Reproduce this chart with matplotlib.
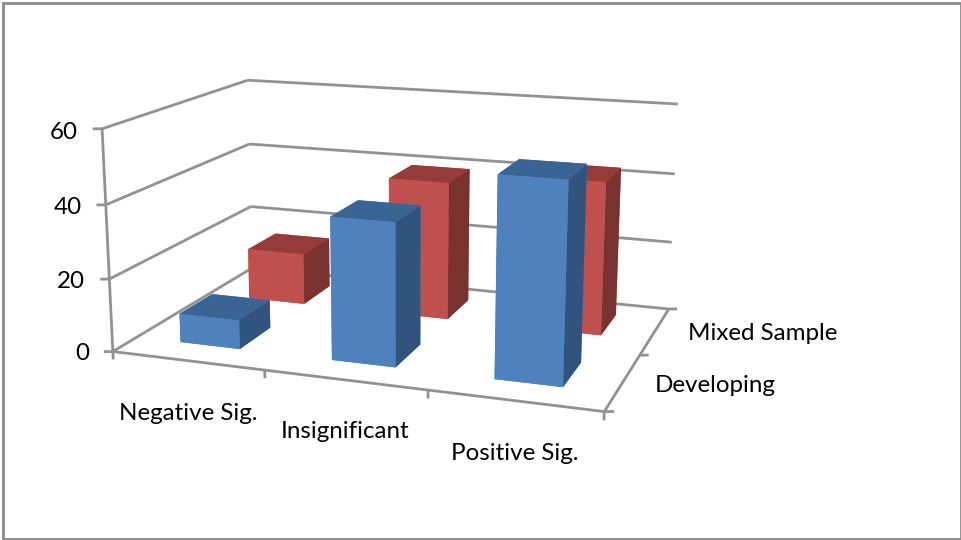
import numpy as np
import matplotlib
matplotlib.use('Agg')
import matplotlib.pyplot as plt
from matplotlib.patches import Rectangle

W, H = 962, 540

categories = ['Negative Sig.', 'Insignificant', 'Positive Sig.']
series = ['Developing', 'Mixed Sample']
developing = [8, 38.5, 52.7]
mixed = [15, 39.5, 43]
z_ticks = [0, 20, 40, 60]

colors = {
    'Developing': ('#4f81bd', '#3a6494', '#31547e'),
    'Mixed Sample': ('#c0504d', '#953c3a', '#7a3230'),
}
GRID = '#929292'

plt.rcParams['font.family'] = ['Lato', 'DejaVu Sans']

fig = plt.figure(figsize=(W / 100, H / 100), dpi=100)
ax = fig.add_axes([0, 0, 1, 1], projection='3d')
ax.set_xlim(0, 3)
ax.set_ylim(0, 2)
ax.set_zlim(0, 60)
ax.set_proj_type('persp', focal_length=0.25)
ax.view_init(elev=14.0089, azim=-70.4954)
ax.set_box_aspect((1, np.exp(-0.4151), np.exp(-0.7915)), zoom=np.exp(0.0623) / 2)
ax.set_axis_off()
ax.computed_zorder = False

# place the axes so the camera frame lands where the reference has it
scale, tx, ty = 6132.52, 402.936, 224.446
x0, x1 = ax.viewLim.intervalx
y0, y1 = ax.viewLim.intervaly
ax.set_position([(tx + scale * x0) / W, 1 - (ty - scale * y0) / H,
                 scale * (x1 - x0) / W, scale * (y1 - y0) / H])


def line3(xs, ys, zs, lw=2.0):
    ax.plot(xs, ys, zs, color=GRID, lw=lw, zorder=1, solid_capstyle='butt')


# walls
for z in z_ticks:
    line3([0, 0], [0, 2], [z, z])
    line3([0, 3], [2, 2], [z, z])
    line3([-0.05, 0], [-0.02, 0], [z, z])
line3([0, 0], [0, 0], [-2.2, 60])
# floor edges and ticks
line3([0, 3], [0, 0], [0, 0])
line3([3, 3], [0, 2], [0, 0])
for x in [1, 2, 3]:
    line3([x, x], [0, 0], [-2.2, 0])
for y in [0, 1, 2]:
    line3([3, 3.05], [y, y + 0.02], [0, 0])

# bars, back row first
bar_w = 0.4
bar_d = 0.45
xs, ys, zs, dz, face = [], [], [], [], []
for row, name, vals in [(1, series[1], mixed), (0, series[0], developing)]:
    front, top, side = colors[name]
    for i, v in enumerate(vals):
        xs.append(i + 0.3)
        ys.append(row + 0.3)
        zs.append(0)
        dz.append(v)
        # bottom, top, -y, +y, -x, +x
        face.extend([front, top, front, front, front, side])
ax.bar3d(xs, ys, zs, bar_w, bar_d, dz, color=face, shade=False, zorder=2)


def label(px, py, s, ha='center'):
    fig.text(px / W, 1 - py / H, s, ha=ha, va='center', fontsize=17.4, color='black')


for z, px, py in zip(z_ticks, [89, 85, 82, 78], [353, 282, 208, 133]):
    label(px, py, str(z), ha='right')
for s, (px, py) in zip(categories, [(188, 414), (345, 432), (515, 453)]):
    label(px, py, s)
label(715, 385, series[0])
label(763, 334, series[1])

# chart area border
fig.add_artist(Rectangle((3 / W, 1 / H), (W - 4) / W, (H - 4) / H, fill=False,
                         edgecolor='#8a8a8a', lw=2.0, transform=fig.transFigure))

fig.savefig('out.png', dpi=100)
